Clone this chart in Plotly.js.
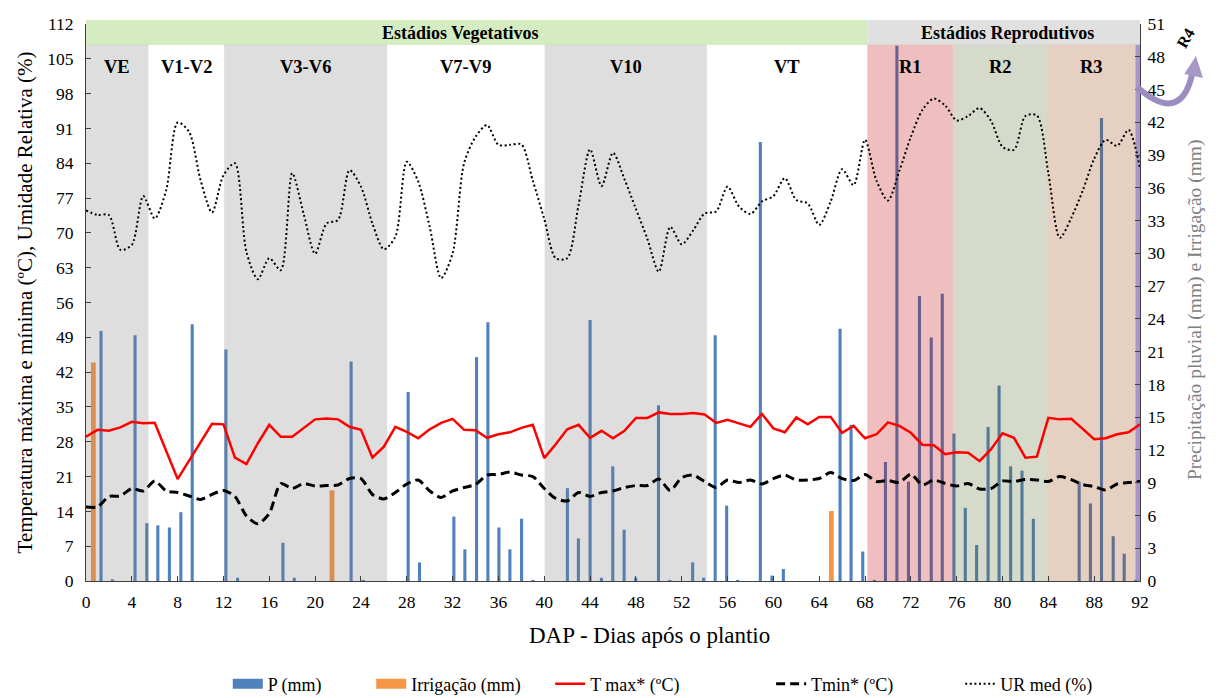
<!DOCTYPE html>
<html><head><meta charset="utf-8">
<script src="https://cdn.plot.ly/plotly-3.0.1.min.js"></script>
<style>html,body{margin:0;padding:0;background:#fff;}#chart{width:1222px;height:698px;}</style>
</head><body><div id="chart"></div>
<script>
// ---- data ----
const days = [0,1,2,3,4,5,6,7,8,9,10,11,12,13,14,15,16,17,18,19,20,21,22,23,24,25,26,27,28,29,30,31,32,33,34,35,36,37,38,39,40,41,42,43,44,45,46,47,48,49,50,51,52,53,54,55,56,57,58,59,60,61,62,63,64,65,66,67,68,69,70,71,72,73,74,75,76,77,78,79,80,81,82,83,84,85,86,87,88,89,90,91,92];
const tmax = [29.0,30.4,30.2,30.9,32.0,31.7,31.8,26.2,20.5,24.2,
  27.9,31.6,31.5,24.8,23.5,27.7,31.4,29.0,29.0,30.7,
  32.5,32.7,32.5,31.0,30.4,24.8,27.0,31.0,30.0,28.7,
  30.5,31.8,32.6,30.4,30.3,28.8,29.5,29.9,30.8,31.4,
  24.7,27.5,30.5,31.4,28.8,30.2,28.7,30.2,32.8,32.8,
  33.9,33.6,33.6,33.8,33.5,31.8,32.4,31.7,31.0,33.6,
  30.7,29.9,32.9,31.5,33.0,33.0,29.8,31.2,28.7,29.5,
  31.9,31.2,29.8,27.4,27.3,25.5,25.9,25.8,24.1,26.5,
  29.7,28.8,24.8,25.0,32.8,32.5,32.6,30.6,28.5,28.7,
  29.5,29.9,31.5];
const tmin = [14.9,14.9,17.0,17.1,18.6,18.1,20.1,18.1,17.8,17.1,
  16.4,17.4,18.2,17.0,13.1,11.5,13.6,19.6,18.6,19.6,
  19.1,19.2,19.3,20.6,20.6,17.4,16.5,17.8,19.5,20.3,
  18.1,16.8,18.1,18.8,19.4,21.3,21.4,21.9,21.3,21.0,
  18.6,16.6,16.1,17.8,17.0,17.8,18.1,18.8,19.2,19.2,
  20.5,18.2,20.8,21.3,20.0,18.8,20.3,19.8,20.3,19.5,
  20.6,21.3,20.3,20.3,20.6,21.8,20.6,20.2,21.4,20.0,
  20.2,19.8,21.5,19.3,20.3,19.6,19.1,19.6,18.5,18.6,
  20.1,20.0,20.4,20.3,20.0,21.0,20.4,19.4,19.0,18.3,
  19.5,19.8,20.0];
const urMed = [74.5,73.6,73.6,66.6,67.6,77.4,72.9,78.6,92.2,90.3,
  80.6,74.1,81.6,84.0,66.2,60.7,64.9,62.5,82.0,73.8,
  65.8,71.9,72.6,82.6,79.3,71.9,66.7,69.2,84.3,80.3,
  71.2,60.9,65.9,84.0,89.3,91.7,87.7,87.7,87.8,80.5,
  72.8,64.9,64.9,75.7,86.8,79.4,86.1,80.8,74.8,68.8,
  62.2,71.2,67.7,70.5,73.9,74.3,79.3,75.3,73.8,76.3,
  77.4,81.0,76.6,75.9,71.6,76.3,82.8,79.6,88.7,80.5,
  76.5,82.5,89.3,94.7,97.0,95.6,92.6,93.5,95.1,92.5,
  87.3,86.7,93.5,93.6,82.0,69.0,73.0,78.5,84.9,88.7,
  87.5,90.7,83.0];
const pDays = [1.31,2.30,4.28,5.31,6.27,7.28,8.28,9.27,12.21,13.23,17.19,18.18,23.14,24.19,28.12,29.11,
  32.11,33.07,34.09,35.08,36.04,37.0,38.02,39.01,42.02,42.98,44.0,44.99,45.98,46.97,47.99,49.97,50.96,
  52.95,53.91,54.92,55.92,56.88,58.86,59.88,60.87,65.82,66.78,67.8,68.82,69.78,70.78,71.79,72.75,73.78,74.74,
  75.76,76.75,77.74,78.74,79.7,80.71,81.7,82.69,86.69,87.67,88.64,89.66,90.62,91.61];
const pVals = [22.9,0.15,22.5,5.3,5.1,4.9,6.3,23.5,21.2,0.3,3.5,0.3,20.1,0.1,17.3,1.7,
  5.9,2.9,20.5,23.7,4.9,2.9,5.7,0.1,8.5,3.9,23.9,0.3,10.5,4.7,0.3,16.1,0.1,
  1.7,0.3,22.5,6.9,0.1,40.2,0.5,1.1,23.1,14.3,2.7,0.1,10.9,49.0,9.1,26.1,22.3,26.3,
  13.5,6.7,3.3,14.1,17.9,10.5,10.1,5.7,9.1,7.1,42.4,4.1,2.5,0.1];
const irrDays = [0.64,21.47,65.06];
const irrVals = [20.0,8.3,6.4];
const xTicks = [0,4,8,12,16,20,24,28,32,36,40,44,48,52,56,60,64,68,72,76,80,84,88,92];
const leftTicks = [0,7,14,21,28,35,42,49,56,63,70,77,84,91,98,105,112];
const rightTicks = [0,3,6,9,12,15,18,21,24,27,30,33,36,39,42,45,48,51];
// growth stages
const stageLabels = ['VE','V1-V2','V3-V6','V7-V9','V10','VT','R1','R2','R3','R4'];
const stageStart  = [0,5.45,12.06,26.28,40.03,54.2,68.2,75.67,83.89,91.6];
const stageEnd    = [5.45,12.06,26.28,40.03,54.2,68.2,75.67,83.89,91.6,92];
const stageFill   = ['rgba(123,123,123,0.25)',null,'rgba(123,123,123,0.25)',null,'rgba(123,123,123,0.25)',null,
                     'rgba(191,0,0,0.25)','rgba(87,107,47,0.25)','rgba(155,67,11,0.25)','rgba(110,80,163,0.6)'];
const stageTop = 49.1;
const groupLabels = ['Estádios Vegetativos','Estádios Reprodutivos'];
const groupStart = [0,68.2], groupEnd = [68.2,92], groupLabelX = [32.7,80.4];
const groupFill = ['#d5ebc2','#e0e0e0'];
const xTitle = 'DAP - Dias após o plantio';
const yLeftTitle = 'Temperatura máxima e mínima (ºC), Umidade Relativa (%)';
const yRightTitle = 'Precipitação pluvial (mm) e Irrigação (mm)';
const seriesNames = ['P (mm)','Irrigação (mm)','T max* (ºC)','Tmin* (ºC)','UR med (%)'];
const legendX = [0.1345,0.2706,0.4404,0.650,0.8294];

const FONT = 'Liberation Serif';
const traces = [];
traces.push({type:'bar', name:seriesNames[0], x:pDays, y:pVals, width:0.27, marker:{color:'#4F81BD'}, yaxis:'y', xaxis:'x', hoverinfo:'skip', showlegend:false});
traces.push({type:'bar', name:seriesNames[1], x:irrDays, y:irrVals, width:0.42, marker:{color:'#F79646'}, yaxis:'y', xaxis:'x', hoverinfo:'skip', showlegend:false});
for (let i=0;i<stageLabels.length;i++){
  if(!stageFill[i]) continue;
  const a=stageStart[i], b=stageEnd[i];
  traces.push({type:'scatter', mode:'lines', x:[a,b,b,a,a], y:[0,0,stageTop,stageTop,0], fill:'toself',
    fillcolor:stageFill[i], line:{width:0}, showlegend:false, hoverinfo:'skip', yaxis:'y', xaxis:'x'});
}
traces.push({type:'scatter', mode:'lines', name:seriesNames[2], x:days, y:tmax, line:{color:'#FF0000', width:2.5}, yaxis:'y2', hoverinfo:'skip', legend:'legend3'});
traces.push({type:'scatter', mode:'lines', name:seriesNames[3], x:days, y:tmin, line:{color:'#000000', width:3, dash:'9px,5px', shape:'spline', smoothing:0.7}, yaxis:'y2', hoverinfo:'skip', legend:'legend4'});
traces.push({type:'scatter', mode:'lines', name:seriesNames[4], x:days, y:urMed, line:{color:'#000000', width:2, dash:'2px,2.6px', shape:'spline', smoothing:0.8}, yaxis:'y2', hoverinfo:'skip', legend:'legend5'});
// legend keys for the two bar series (wide swatches as in the original)
traces.push({type:'scatter', mode:'lines', name:seriesNames[0], x:[null], y:[null], line:{color:'#4F81BD', width:14}, yaxis:'y2', hoverinfo:'skip', legend:'legend'});
traces.push({type:'scatter', mode:'lines', name:seriesNames[1], x:[null], y:[null], line:{color:'#F79646', width:14}, yaxis:'y2', hoverinfo:'skip', legend:'legend2'});

const shapes = [];
for (let i=0;i<groupLabels.length;i++){
  shapes.push({type:'rect', xref:'x', yref:'paper', x0:groupStart[i], x1:groupEnd[i], y0:0.9623, y1:1.0072,
    fillcolor:groupFill[i], line:{width:0}, layer:'below'});
}
shapes.push({type:'path', xref:'paper', yref:'paper', layer:'above',
  path:'M 0.9972,0.8869 Q 1.0380,0.8187 1.0493,0.9084', line:{color:'#9d8cc0', width:6}});
shapes.push({type:'path', xref:'paper', yref:'paper', layer:'above',
  path:'M 1.0531,0.9426 L 1.0420,0.9102 L 1.0598,0.9030 Z', fillcolor:'#a898c8', line:{width:0}});

const annotations = [];
for (let i=0;i<stageLabels.length-1;i++){
  annotations.push({xref:'x', yref:'paper', x:(stageStart[i]+stageEnd[i])/2, y:0.9228, xanchor:'center', yanchor:'middle',
    text:'<b>'+stageLabels[i]+'</b>', showarrow:false, font:{family:FONT, size:18.5, color:'#000'}});
}
annotations.push({xref:'paper', yref:'paper', x:1.0437, y:0.975, xanchor:'center', yanchor:'middle', text:'<b>'+stageLabels[9]+'</b>', textangle:-60,
  showarrow:false, font:{family:FONT, size:16, color:'#000'}});
for (let i=0;i<groupLabels.length;i++){
  annotations.push({xref:'x', yref:'paper', x:groupLabelX[i], y:0.9845, xanchor:'center', yanchor:'middle',
    text:'<b>'+groupLabels[i]+'</b>', showarrow:false, font:{family:FONT, size:18, color:'#000'}});
}
annotations.push({xref:'paper', yref:'paper', x:0.535, y:-0.0987, xanchor:'center', yanchor:'middle', text:xTitle,
  showarrow:false, font:{family:FONT, size:23, color:'#000'}});
annotations.push({xref:'paper', yref:'paper', x:1.0522, y:0.4865, xanchor:'center', yanchor:'middle', text:yRightTitle, textangle:-90,
  showarrow:false, font:{family:FONT, size:19.5, color:'#7f7f7f'}});

const axisCommon = {showgrid:false, zeroline:false, showline:true, linecolor:'#404040', linewidth:1,
  ticks:'inside', ticklen:5, tickcolor:'#404040', tickfont:{family:FONT, size:17.5, color:'#000'}, fixedrange:true};

function legendAt(x){
  return {orientation:'h', x:x, xanchor:'left', y:-0.185, yanchor:'middle', font:{family:FONT, size:18, color:'#000'},
    bgcolor:'rgba(0,0,0,0)', borderwidth:0};
}
const layout = {
  width:1222, height:698, margin:{l:86, r:82, t:24, b:117, autoexpand:false},
  paper_bgcolor:'#fff', plot_bgcolor:'rgba(0,0,0,0)',
  font:{family:FONT, color:'#000'},
  barmode:'overlay', showlegend:true,
  xaxis:Object.assign({}, axisCommon, {range:[0,92], tickmode:'array', tickvals:xTicks, ticklabelstandoff:5}),
  yaxis:Object.assign({}, axisCommon, {range:[0,51], side:'right', tickmode:'array', tickvals:rightTicks, ticklabelstandoff:3}),
  yaxis2:Object.assign({}, axisCommon, {range:[0,112], side:'left', overlaying:'y', tickmode:'array', tickvals:leftTicks, ticklabelstandoff:8,
    title:{text:yLeftTitle, font:{family:FONT, size:21, color:'#000'}, standoff:8}}),
  legend:legendAt(legendX[0]), legend2:legendAt(legendX[1]), legend3:legendAt(legendX[2]),
  legend4:legendAt(legendX[3]), legend5:legendAt(legendX[4]),
  shapes:shapes, annotations:annotations
};
Plotly.newPlot('chart', traces, layout, {displayModeBar:false, staticPlot:true});
</script></body></html>
